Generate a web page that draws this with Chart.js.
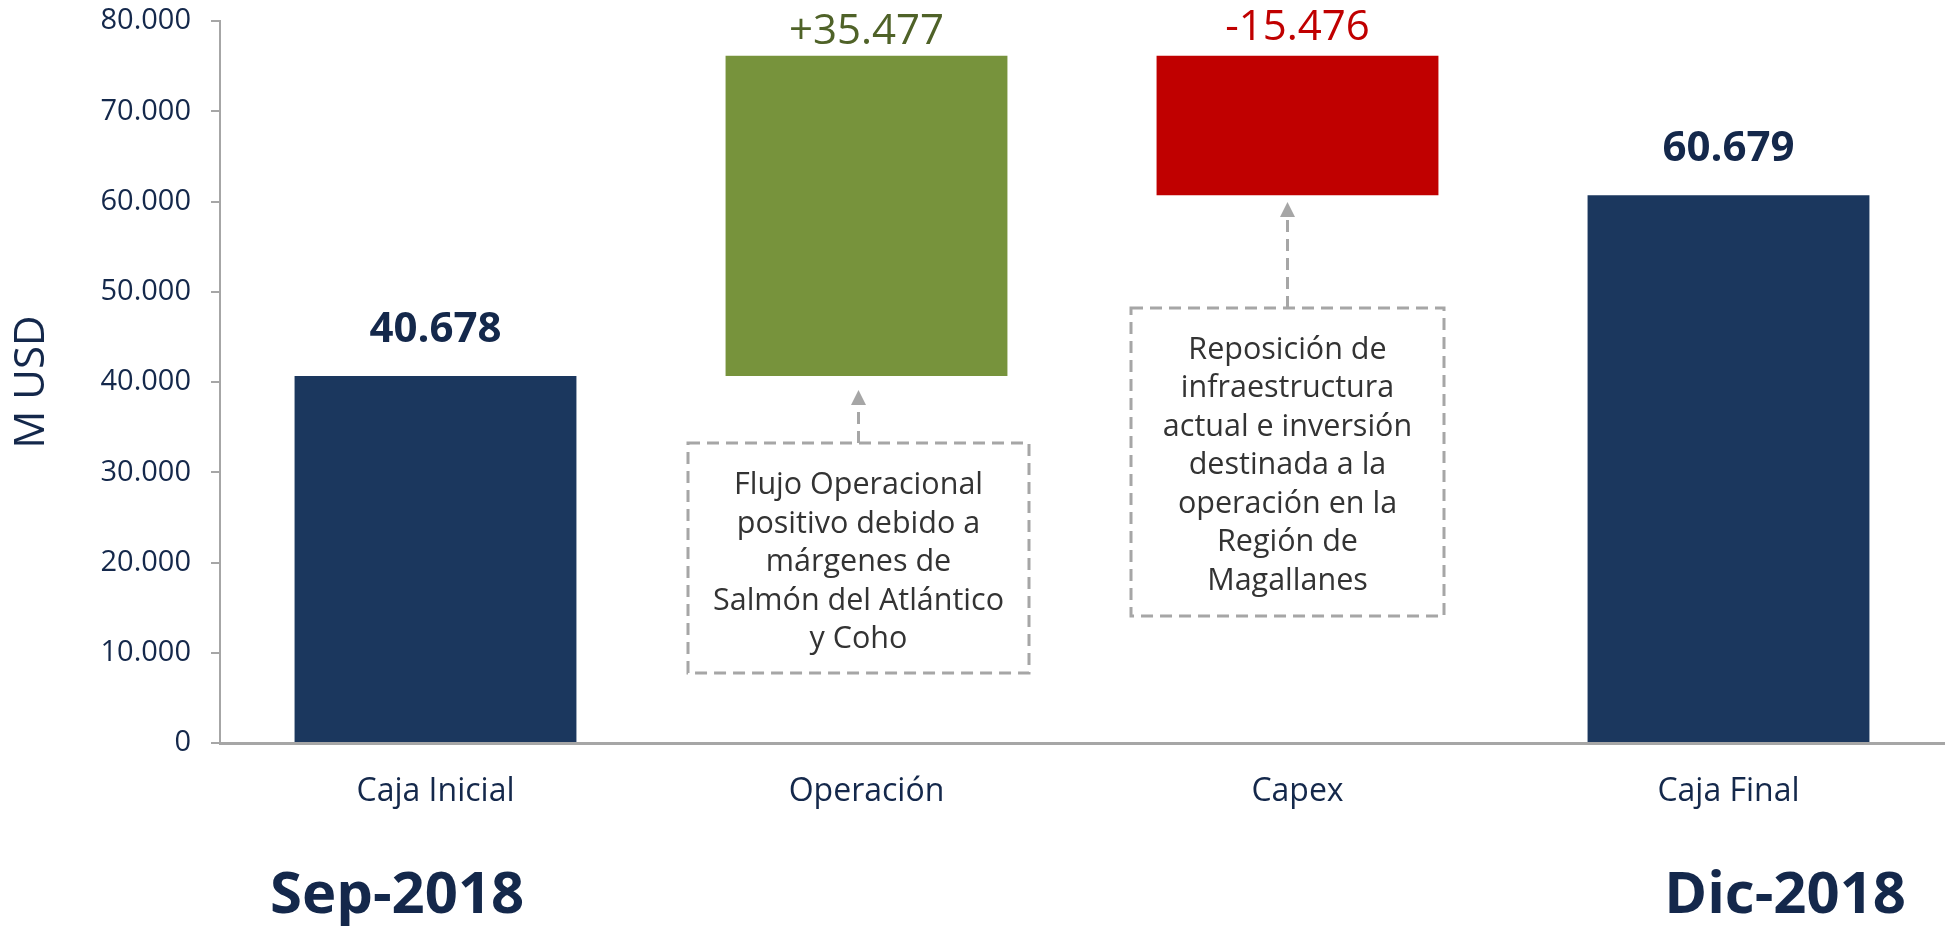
<!DOCTYPE html>
<html>
<head>
<meta charset="utf-8">
<script src="https://cdn.jsdelivr.net/npm/chart.js@4/dist/chart.umd.min.js"></script>
<style>
  body { margin: 0; background: #fff; }
  #canvas { display: block; }
</style>
</head>
<body>
<canvas id="canvas" width="1945" height="926"></canvas>
<script>
// datos del grafico (M USD)
const categorias = ['Caja Inicial', 'Operación', 'Capex', 'Caja Final'];
const cajaInicial = 40678;
const variaciones = [35477, -15476];   // Operación, Capex
const cajaFinal = 60679;
const ticksY = [0, 10000, 20000, 30000, 40000, 50000, 60000, 70000, 80000];
const periodos = ['Sep-2018', 'Dic-2018'];

const notaOperacion = ['Flujo Operacional', 'positivo debido a', 'márgenes de', 'Salmón del Atlántico', 'y Coho'];
const notaCapex = ['Reposición de', 'infraestructura', 'actual e inversión', 'destinada a la', 'operación en la', 'Región de', 'Magallanes'];

const AZUL = '#1b375e';
const TEXTO = '#14284b';
const VERDE = '#77933c';
const VERDE_TXT = '#4f6228';
const ROJO = '#c00000';
const GRIS = '#a6a6a6';
const FUENTE = '"Open Sans", "Noto Sans", sans-serif';

function el(sel) {
  return document.querySelector(sel);
}

function miles(n) {
  return String(Math.abs(n)).replace(/\B(?=(\d{3})+(?!\d))/g, '.');
}

// barras flotantes de la cascada
let rangos = [[0, cajaInicial]];
let etiquetas = [miles(cajaInicial)];
let acum = cajaInicial;
variaciones.forEach(v => {
  rangos.push(v > 0 ? [acum, acum + v] : [acum + v, acum]);
  etiquetas.push((v > 0 ? '+' : '-') + miles(v));
  acum += v;
});
rangos.push([0, cajaFinal]);
etiquetas.push(miles(cajaFinal));

const colores = [AZUL, VERDE, ROJO, AZUL];
const coloresTxt = [TEXTO, VERDE_TXT, ROJO, TEXTO];
const etiquetaBold = [true, false, false, true];
const etiquetaGap = [34, 12, 16, 34];

// cajas de notas: posicion en unidades de la escala
const notas = [
  { idx: 1, lineas: notaOperacion, dx: -8, ancho: 341, arriba: 33240, abajo: 7750, punta: 39100 },
  { idx: 2, lineas: notaCapex, dx: -10, ancho: 313, arriba: 48200, abajo: 14070, punta: 59950 }
];

function dibujarNota(ctx, chart, n) {
  const x = chart.scales.x, y = chart.scales.y;
  const cx = x.getPixelForValue(n.idx) + n.dx;
  const top = y.getPixelForValue(n.arriba);
  const bot = y.getPixelForValue(n.abajo);
  const tip = y.getPixelForValue(n.punta);
  const left = cx - n.ancho / 2;

  ctx.save();
  ctx.strokeStyle = GRIS;
  ctx.fillStyle = GRIS;
  ctx.lineWidth = 3;
  ctx.setLineDash([12, 7]);
  ctx.strokeRect(left, top, n.ancho, bot - top);

  // flecha
  ctx.beginPath();
  ctx.moveTo(cx, top);
  ctx.lineTo(cx, tip + 15);
  ctx.stroke();
  ctx.setLineDash([]);
  ctx.beginPath();
  ctx.moveTo(cx, tip);
  ctx.lineTo(cx - 7.5, tip + 15);
  ctx.lineTo(cx + 7.5, tip + 15);
  ctx.closePath();
  ctx.fill();

  ctx.fillStyle = '#333333';
  ctx.font = '30.5px ' + FUENTE;
  ctx.textAlign = 'center';
  ctx.textBaseline = 'alphabetic';
  n.lineas.forEach((t, i) => {
    ctx.fillText(t, cx, top + 51 + i * 38.5);
  });
  ctx.restore();
}

const extras = {
  id: 'extras',
  afterDatasetsDraw(chart) {
    const ctx = chart.ctx;
    const meta = chart.getDatasetMeta(0);

    // etiquetas de valor
    ctx.save();
    ctx.textAlign = 'center';
    ctx.textBaseline = 'alphabetic';
    meta.data.forEach((bar, i) => {
      const topPx = Math.min(bar.y, bar.base);
      ctx.font = (etiquetaBold[i] ? 'bold ' : '') + '42px ' + FUENTE;
      ctx.fillStyle = coloresTxt[i];
      ctx.fillText(etiquetas[i], bar.x, topPx - etiquetaGap[i]);
    });
    ctx.restore();

    notas.forEach(n => dibujarNota(ctx, chart, n));

    // periodos abajo
    ctx.save();
    ctx.font = 'bold 58px ' + FUENTE;
    ctx.fillStyle = TEXTO;
    ctx.textBaseline = 'alphabetic';
    ctx.textAlign = 'left';
    ctx.fillText(periodos[0], 270, 913);
    ctx.textAlign = 'right';
    ctx.fillText(periodos[1], 1906, 913);
    ctx.restore();
  }
};

new Chart(el('#canvas').getContext('2d'), {
  type: 'bar',
  data: {
    labels: categorias,
    datasets: [{
      data: rangos,
      backgroundColor: colores,
      borderWidth: 0,
      categoryPercentage: 1,
      barPercentage: 0.654
    }]
  },
  options: {
    responsive: false,
    animation: false,
    layout: { padding: { top: 21, right: 1, left: 0, bottom: 0 } },
    plugins: {
      legend: { display: false },
      tooltip: { enabled: false }
    },
    scales: {
      x: {
        afterFit: s => { s.height = 183; s.paddingLeft = 0; s.paddingRight = 0; },
        grid: { display: false, drawTicks: false },
        border: { display: true, color: GRIS, width: 3 },
        ticks: {
          padding: 30,
          color: TEXTO,
          font: { family: FUENTE, size: 32 }
        }
      },
      y: {
        min: 0,
        max: 80000,
        afterFit: s => { s.width = 220; s.paddingTop = 0; s.paddingBottom = 0; },
        afterBuildTicks: s => { s.ticks = ticksY.map(v => ({ value: v })); },
        grid: { drawOnChartArea: false, drawTicks: true, tickLength: 9, color: GRIS, lineWidth: 2 },
        border: { display: true, color: GRIS, width: 2 },
        ticks: {
          padding: 20,
          color: TEXTO,
          font: { family: FUENTE, size: 29 },
          callback: v => v === 0 ? '0' : miles(v)
        },
        title: {
          display: true,
          text: 'M USD',
          color: TEXTO,
          font: { family: FUENTE, size: 42 },
          padding: { top: 7, bottom: 0 }
        }
      }
    }
  },
  plugins: [extras]
});
</script>
</body>
</html>
